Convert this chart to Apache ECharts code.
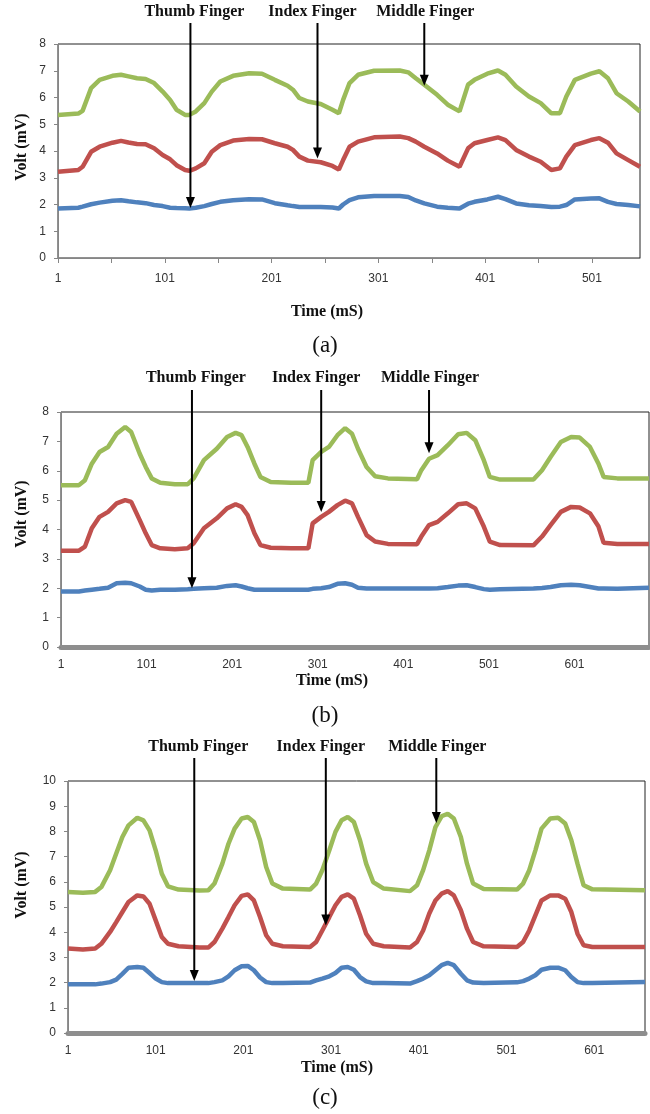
<!DOCTYPE html>
<html>
<head>
<meta charset="utf-8">
<title>Finger signals</title>
<script src="https://cdn.jsdelivr.net/npm/echarts/dist/echarts.min.js"></script>
<style>
  html, body { margin: 0; padding: 0; background: #fff; }
  #chart { width: 650px; height: 1114px; }
</style>
</head>
<body>
<div id="chart"></div>
<script>
// ---- panel (a) ----
const timeA = [1, 20, 24, 32, 40, 52, 60, 67, 75, 83, 91, 99, 106, 112, 120, 124, 130, 138, 145, 153,
  165, 180, 192, 204, 216, 221, 227, 235, 247, 258, 264, 268, 274, 282, 297, 321, 329, 336, 344, 356,
  366, 377, 385, 391, 403, 413, 420, 430, 442, 453, 463, 471, 477, 485, 500, 508, 516, 524, 535, 546]
const thumbA = [1.85, 1.88, 1.92, 2.01, 2.07, 2.14, 2.16, 2.12, 2.08, 2.05, 1.98, 1.94, 1.88, 1.87, 1.86, 1.85, 1.88, 1.94, 2.02, 2.1,
  2.16, 2.2, 2.19, 2.05, 1.97, 1.94, 1.91, 1.91, 1.91, 1.89, 1.85, 2.0, 2.16, 2.27, 2.32, 2.32, 2.28, 2.15, 2.04, 1.92,
  1.88, 1.85, 2.03, 2.1, 2.19, 2.29, 2.2, 2.04, 1.97, 1.94, 1.91, 1.92, 1.98, 2.19, 2.22, 2.23, 2.1, 2.02, 1.98, 1.93]
const indexA = [3.22, 3.29, 3.41, 3.97, 4.16, 4.31, 4.38, 4.32, 4.26, 4.25, 4.1, 3.85, 3.69, 3.47, 3.29, 3.26, 3.35, 3.54, 3.97, 4.22,
  4.39, 4.45, 4.44, 4.29, 4.16, 4.04, 3.79, 3.64, 3.58, 3.44, 3.31, 3.66, 4.16, 4.35, 4.51, 4.54, 4.48, 4.35, 4.16, 3.91,
  3.64, 3.41, 4.1, 4.29, 4.41, 4.51, 4.41, 4.04, 3.79, 3.6, 3.29, 3.35, 3.79, 4.22, 4.41, 4.48, 4.31, 3.91, 3.66, 3.41]
const middleA = [5.35, 5.4, 5.5, 6.35, 6.66, 6.81, 6.85, 6.79, 6.72, 6.69, 6.54, 6.22, 5.91, 5.54, 5.35, 5.35, 5.48, 5.79, 6.22, 6.6,
  6.81, 6.91, 6.89, 6.66, 6.44, 6.29, 5.98, 5.85, 5.76, 5.54, 5.41, 5.91, 6.54, 6.85, 7.0, 7.01, 6.94, 6.72, 6.48, 6.1,
  5.73, 5.48, 6.48, 6.66, 6.89, 7.01, 6.85, 6.41, 6.04, 5.79, 5.41, 5.41, 6.04, 6.66, 6.89, 6.98, 6.72, 6.16, 5.85, 5.48]

// ---- panel (b) ----
const timeB = [1, 22, 29, 37, 46, 56, 66, 76, 83, 93, 100, 107, 117, 134, 149, 156, 168, 183, 195, 205,
  212, 219, 227, 234, 246, 270, 290, 295, 305, 314, 324, 333, 341, 348, 358, 368, 383, 417, 422, 431,
  441, 453, 465, 475, 485, 495, 502, 514, 553, 563, 573, 585, 597, 607, 619, 629, 635, 651, 688]
const thumbB = [1.89, 1.89, 1.92, 1.95, 1.98, 2.02, 2.17, 2.19, 2.17, 2.06, 1.95, 1.92, 1.95, 1.95, 1.97, 1.98, 2.0, 2.02, 2.08, 2.1,
  2.06, 2.0, 1.95, 1.95, 1.95, 1.95, 1.95, 1.98, 2.0, 2.04, 2.15, 2.17, 2.12, 2.02, 1.99, 1.99, 1.99, 1.99, 1.99, 1.99,
  2.0, 2.04, 2.09, 2.1, 2.04, 1.97, 1.95, 1.97, 1.99, 2.01, 2.04, 2.1, 2.12, 2.1, 2.04, 1.99, 1.99, 1.98, 2.02]
const indexB = [3.28, 3.28, 3.42, 4.04, 4.43, 4.6, 4.89, 5.0, 4.94, 4.32, 3.87, 3.47, 3.36, 3.33, 3.36, 3.53, 4.04, 4.38, 4.72, 4.86,
  4.77, 4.49, 3.87, 3.47, 3.38, 3.36, 3.36, 4.21, 4.43, 4.6, 4.83, 4.98, 4.89, 4.43, 3.81, 3.59, 3.51, 3.5, 3.76, 4.15,
  4.26, 4.55, 4.86, 4.89, 4.72, 4.1, 3.59, 3.47, 3.46, 3.76, 4.15, 4.6, 4.77, 4.75, 4.55, 4.1, 3.55, 3.51, 3.51]
const middleB = [5.51, 5.51, 5.68, 6.24, 6.64, 6.81, 7.26, 7.49, 7.32, 6.58, 6.13, 5.74, 5.59, 5.54, 5.54, 5.74, 6.36, 6.75, 7.15, 7.29,
  7.21, 6.81, 6.24, 5.79, 5.62, 5.59, 5.59, 6.36, 6.64, 6.81, 7.21, 7.45, 7.26, 6.75, 6.13, 5.81, 5.74, 5.71, 6.02, 6.41,
  6.53, 6.87, 7.24, 7.29, 7.04, 6.36, 5.79, 5.7, 5.7, 6.02, 6.47, 6.98, 7.15, 7.13, 6.81, 6.24, 5.79, 5.74, 5.74]

// ---- panel (c) ----
const timeC = [1, 18, 32, 39, 49, 56, 63, 70, 80, 87, 94, 101, 108, 115, 127, 151, 161, 168, 177, 184,
  191, 199, 206, 213, 220, 227, 234, 246, 277, 284, 291, 299, 306, 313, 320, 327, 334, 341, 349, 361,
  391, 399, 406, 413, 420, 427, 434, 441, 449, 456, 463, 475, 513, 520, 527, 534, 541, 551, 560, 568,
  575, 582, 589, 599, 659]
const thumbC = [1.93, 1.93, 1.93, 1.96, 2.02, 2.12, 2.35, 2.59, 2.62, 2.59, 2.38, 2.16, 2.02, 1.98, 1.98, 1.98, 1.98, 2.02, 2.09, 2.25,
  2.49, 2.65, 2.66, 2.49, 2.2, 2.02, 1.98, 1.98, 2.0, 2.09, 2.16, 2.25, 2.38, 2.59, 2.62, 2.51, 2.22, 2.05, 1.98, 1.98,
  1.96, 2.06, 2.16, 2.29, 2.49, 2.69, 2.78, 2.69, 2.35, 2.09, 2.0, 1.98, 2.01, 2.06, 2.16, 2.29, 2.51, 2.59, 2.59, 2.49,
  2.22, 2.02, 1.98, 1.98, 2.02]
const indexC = [3.35, 3.31, 3.35, 3.54, 4.01, 4.4, 4.8, 5.2, 5.46, 5.42, 5.13, 4.47, 3.81, 3.54, 3.44, 3.39, 3.39, 3.61, 4.14, 4.6,
  5.07, 5.44, 5.5, 5.26, 4.6, 3.88, 3.54, 3.44, 3.41, 3.61, 4.07, 4.6, 5.07, 5.4, 5.5, 5.33, 4.67, 3.94, 3.54, 3.44,
  3.39, 3.61, 4.07, 4.74, 5.26, 5.53, 5.63, 5.46, 4.87, 4.14, 3.61, 3.44, 3.41, 3.61, 4.07, 4.67, 5.26, 5.46, 5.46, 5.33,
  4.8, 3.94, 3.48, 3.41, 3.41]
const middleC = [5.6, 5.57, 5.6, 5.79, 6.46, 7.12, 7.78, 8.24, 8.54, 8.44, 8.04, 7.25, 6.32, 5.82, 5.69, 5.65, 5.66, 5.93, 6.72, 7.51,
  8.11, 8.51, 8.57, 8.37, 7.65, 6.59, 5.93, 5.73, 5.69, 5.93, 6.46, 7.25, 7.98, 8.44, 8.57, 8.37, 7.65, 6.72, 5.99, 5.73,
  5.63, 5.86, 6.46, 7.25, 8.17, 8.6, 8.7, 8.51, 7.78, 6.72, 5.93, 5.71, 5.69, 5.93, 6.46, 7.25, 8.11, 8.51, 8.54, 8.31,
  7.65, 6.72, 5.86, 5.7, 5.66]

// arrow tips [time, volt]: thumb, index, middle
const arrowsA = [[125, 1.87], [244, 3.72], [344, 6.44]]
const arrowsB = [[154, 2.0], [305, 4.6], [431, 6.6]]
const arrowsC = [[145, 2.06], [295, 4.27], [421, 8.33]]

const fingerNames = ['Thumb Finger', 'Index Finger', 'Middle Finger']
const panelTags = ['(a)', '(b)', '(c)']
const timeMax = [546, 688, 659]
const voltMax = [8, 8, 10]

const lineColors = ['#4F81BD', '#C0504D', '#9BBB59']
const serif = '"Liberation Serif", "Times New Roman", serif'
const sans = '"Liberation Sans", Arial, sans-serif'

const panels = [
  { time: timeA, lines: [thumbA, indexA, middleA], arrows: arrowsA },
  { time: timeB, lines: [thumbB, indexB, middleB], arrows: arrowsB },
  { time: timeC, lines: [thumbC, indexC, middleC], arrows: arrowsC }
]

// page layout of each panel
const layout = [
  { grid: { left: 58, top: 44, width: 582, height: 214 }, bar: false, labelMargin: 15, arrowTop: 23, textY: 12, titleX: 327, titleY: 312, voltY: 147, tagY: 346 },
  { grid: { left: 61, top: 412, width: 588, height: 235 }, bar: true, labelMargin: 10, arrowTop: 390, textY: 378, titleX: 332, titleY: 681, voltY: 514, tagY: 716 },
  { grid: { left: 68, top: 781, width: 577, height: 252 }, bar: true, labelMargin: 10, arrowTop: 758, textY: 747, titleX: 337, titleY: 1068, voltY: 885, tagY: 1098 }
]
const textDx = [4, -5, 1]

const chart = echarts.init(document.getElementById('chart'))

const option = {
  animation: false,
  backgroundColor: '#fff',
  grid: layout.map(l => Object.assign({
    show: true, borderColor: '#222', borderWidth: 1, backgroundColor: 'transparent', outerBoundsMode: 'none'
  }, l.grid)),
  xAxis: layout.map((l, i) => ({
    type: 'value',
    gridIndex: i,
    min: 1,
    max: timeMax[i],
    interval: l.bar ? 100 : 50,
    offset: l.bar ? 2 : 0,
    axisLine: { show: true, lineStyle: { color: l.bar ? '#8e8e8e' : '#868686', width: l.bar ? 5 : 1 } },
    axisTick: { show: !l.bar, length: 5, lineStyle: { color: '#868686' } },
    axisLabel: {
      margin: l.labelMargin,
      color: '#333',
      fontSize: 12,
      fontFamily: sans,
      showMaxLabel: false,
      formatter: v => ((v - 1) % 100 === 0 ? String(v) : '')
    },
    splitLine: { show: false }
  })),
  yAxis: layout.map((l, i) => ({
    type: 'value',
    gridIndex: i,
    min: 0,
    max: voltMax[i],
    interval: 1,
    axisLine: { show: true, lineStyle: { color: '#868686' } },
    axisTick: { show: true, length: 4, lineStyle: { color: '#868686' } },
    axisLabel: { margin: 12, color: '#333', fontSize: 12, fontFamily: sans },
    splitLine: { show: false }
  })),
  series: []
}

panels.forEach((p, i) => {
  p.lines.forEach((vals, k) => {
    option.series.push({
      type: 'line',
      name: fingerNames[k],
      xAxisIndex: i,
      yAxisIndex: i,
      showSymbol: false,
      data: p.time.map((t, j) => [t, vals[j]]),
      lineStyle: { color: lineColors[k], width: 4.5 },
      itemStyle: { color: lineColors[k] }
    })
  })
})

chart.setOption(option)

// annotations: finger names with arrows, axis titles and panel tags
const marks = []
panels.forEach((p, i) => {
  const l = layout[i]
  p.arrows.forEach((tip, k) => {
    const pt = chart.convertToPixel({ gridIndex: i }, tip)
    marks.push({
      type: 'line', z: 100,
      shape: { x1: pt[0], y1: l.arrowTop, x2: pt[0], y2: pt[1] - 8 },
      style: { stroke: '#000', lineWidth: 2 }
    })
    marks.push({
      type: 'polygon', z: 100,
      shape: { points: [[pt[0] - 4.5, pt[1] - 11], [pt[0] + 4.5, pt[1] - 11], [pt[0], pt[1]]] },
      style: { fill: '#000' }
    })
    marks.push({
      type: 'text', z: 100, x: pt[0] + textDx[k], y: l.textY,
      style: { text: fingerNames[k], font: 'bold 16px ' + serif, fill: '#111', textAlign: 'center', textVerticalAlign: 'middle' }
    })
  })
  marks.push({
    type: 'text', z: 100, x: 22, y: l.voltY, rotation: Math.PI / 2,
    style: { text: 'Volt (mV)', font: 'bold 16px ' + serif, fill: '#111', textAlign: 'center', textVerticalAlign: 'middle' }
  })
  marks.push({
    type: 'text', z: 100, x: l.titleX, y: l.titleY,
    style: { text: 'Time (mS)', font: 'bold 16px ' + serif, fill: '#111', textAlign: 'center', textVerticalAlign: 'middle' }
  })
  marks.push({
    type: 'text', z: 100, x: 325, y: l.tagY,
    style: { text: panelTags[i], font: '23px ' + serif, fill: '#111', textAlign: 'center', textVerticalAlign: 'middle' }
  })
})

chart.setOption({ graphic: marks })
</script>
</body>
</html>
